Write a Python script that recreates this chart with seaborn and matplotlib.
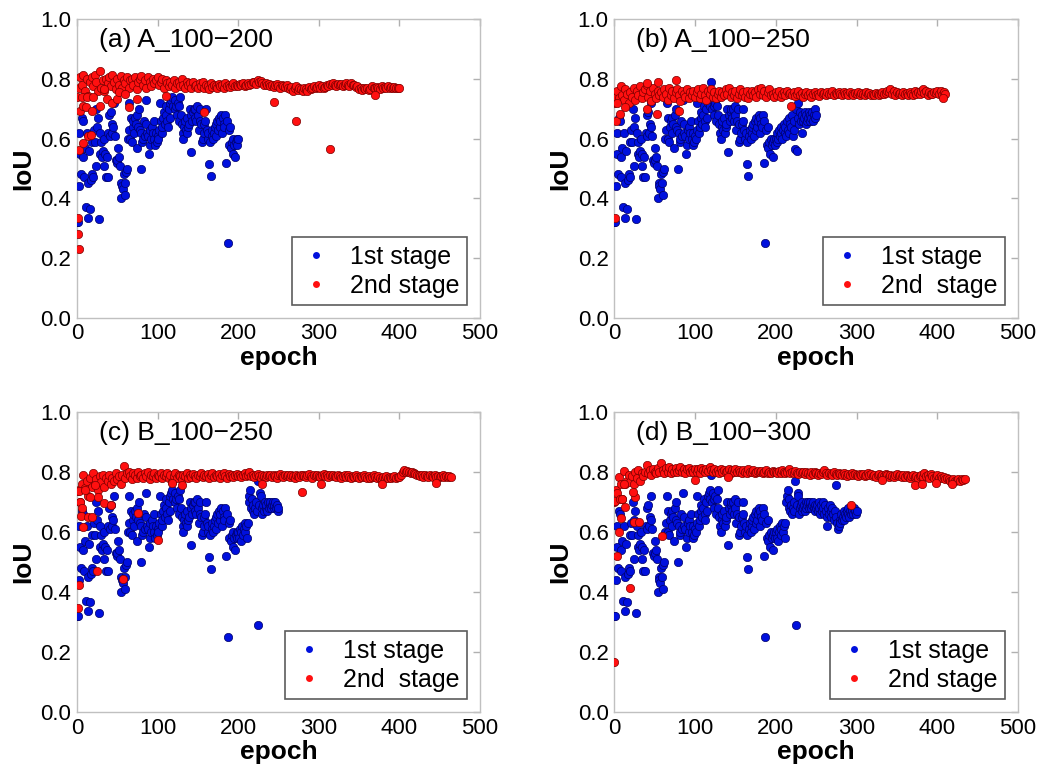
import numpy as np
import pandas as pd
import seaborn as sns
import matplotlib
matplotlib.use("Agg")
from matplotlib import pyplot as plt
from matplotlib.lines import Line2D

# ---- data ----

# 1st stage IoU, one value per epoch (epochs 0-200 are shared by all panels)
blue_common = [
    .32, .32, .44, .62, .55, .48, .67, .66, .54, .47,
    .57, .37, .62, .335, .45, .56, .365, .46, .48, .59,
    .47, .63, .59, .70, .51, .64, .67, .33, .62, .55,
    .59, .54, .56, .60, .51, .55, .47, .54, .47, .62,
    .68, .61, .69, .62, .65, .64, .72, .61, .53, .52,
    .53, .57, .54, .51, .40, .45, .44, .43, .48, .45,
    .41, .49, .50, .60, .63, .72, .60, .67, .59, .64,
    .66, .62, .67, .65, .57, .68, .64, .70, .63, .50,
    .62, .59, .60, .66, .61, .73, .65, .62, .61, .55,
    .58, .63, .60, .64, .62, .66, .60, .58, .62, .59,
    .61, .60, .63, .72, .66, .62, .64, .67, .69, .65,
    .68, .71, .66, .64, .70, .67, .72, .73, .74, .71,
    .79, .70, .73, .71, .68, .72, .66, .71, .74, .68,
    .65, .62, .60, .64, .66, .63, .67, .62, .64, .65,
    .70, .555, .68, .66, .69, .70, .67, .70, .66, .71,
    .68, .63, .66, .70, .65, .59, .60, .62, .65, .66,
    .70, .63, .60, .62, .515, .59, .475, .61, .63, .60,
    .62, .64, .65, .61, .66, .63, .67, .64, .66, .68,
    .62, .67, .65, .64, .68, .52, .66, .25, .63, .58,
    .64, .57, .59, .55, .60, .58, .54, .59, .60, .58,
    .60,
]
# epochs 201-250, run A_100-250
blue_a_ext = [
    .59, .62, .60, .63, .61, .64, .62, .60, .63, .65,
    .62, .64, .61, .66, .63, .67, .62, .65, .64, .68,
    .61, .66, .63, .565, .70, .56, .72, .67, .65, .69,
    .66, .62, .68, .66, .67, .69, .65, .68, .66, .67,
    .69, .66, .68, .67, .69, .66, .68, .70, .67, .68,
]
# epochs 201-250, runs B
blue_b_ext = [
    .58, .61, .57, .60, .62, .59, .61, .63, .60, .62,
    .58, .63, .70, .72, .74, .68, .71, .67, .69, .66,
    .68, .70, .67, .77, .29, .69, .73, .72, .66, .68,
    .69, .67, .70, .68, .69, .67, .70, .68, .69, .70,
    .68, .69, .70, .68, .69, .70, .68, .69, .67, .68,
]
# epochs 251-300, run B_100-300
blue_b_ext2 = [
    .69, .67, .70, .68, .66, .69, .67, .70, .68, .66,
    .69, .67, .65, .62, .68, .66, .69, .67, .65, .68,
    .66, .64, .67, .65, .755, .63, .61, .62, .64, .63,
    .66, .64, .65, .67, .64, .66, .65, .67, .66, .68,
    .65, .67, .66, .68, .67, .66, .68, .67, .66, .67,
]

# 2nd stage IoU, main band read every 2 epochs
red_a_band = [
    .740, .770, .805, .780, .812, .760, .800, .742, .790, .808,
    .775, .813, .790, .760, .828, .770, .795, .760, .800, .785,
    .805, .775, .812, .790, .765, .800, .780, .810, .770, .795,
    .785, .805, .770, .795, .800, .780, .808, .765, .790, .800,
    .810, .780, .795, .770, .805, .790, .775, .800, .785, .795,
    .808, .780, .790, .800, .770, .795, .785, .775, .790, .780,
    .795, .770, .785, .790, .775, .800, .780, .770, .790, .778,
    .785, .770, .790, .775, .780, .768, .785, .775, .790, .770,
    .780, .775, .765, .785, .772, .780, .775, .770, .782, .776,
    .778, .770, .785, .775, .780, .772, .778, .785, .775, .780,
    .776, .782, .778, .785, .775, .780, .786, .778, .783, .788,
    .790, .784, .795, .790, .793, .786, .780, .785, .778, .782,
    .775, .780, .772, .778, .784, .775, .770, .780, .776, .772,
    .778, .770, .765, .772, .760, .768, .775, .762, .770, .765,
    .760, .770, .765, .758, .772, .766, .770, .775, .768, .773,
    .778, .770, .775, .768, .772, .780, .776, .782, .778, .785,
    .780, .776, .784, .778, .782, .775, .780, .786, .778, .775,
    .785, .778, .780, .772, .776, .765, .770, .762, .768, .765,
    .770, .762, .766, .775, .770, .768, .772, .770, .766, .775,
    .770, .772, .768, .776, .770, .774, .768, .772, .770, .768,
    .768,
]
red_a_out_ep = [1, 2, 1, 3, 8, 14, 17, 4, 7, 11, 19, 6, 12, 20, 28, 33, 37,
                43, 49, 52, 64, 60, 74, 111, 157, 245, 272, 314, 370]
red_a_out = [.28, .23, .335, .563, .585, .608, .612, .694, .71, .705, .694,
             .74, .738, .738, .71, .766, .733, .72, .733, .755, .705, .75,
             .733, .744, .688, .724, .658, .566, .746]

red_b_band = [
    .720, .740, .760, .735, .775, .745, .730, .765, .750, .720,
    .755, .740, .770, .730, .760, .745, .775, .735, .755, .765,
    .780, .740, .760, .725, .770, .750, .735, .760, .745, .755,
    .740, .765, .750, .730, .770, .745, .760, .735, .755, .765,
    .745, .725, .760, .750, .740, .765, .735, .755, .745, .760,
    .740, .755, .765, .735, .750, .770, .745, .730, .760, .750,
    .765, .740, .755, .735, .750, .760, .740, .755, .745, .765,
    .750, .770, .740, .755, .745, .760, .735, .750, .765, .745,
    .755, .740, .760, .735, .750, .760, .745, .755, .740, .765,
    .750, .770, .745, .760, .740, .755, .765, .745, .750, .740,
    .755, .745, .760, .740, .750, .755, .745, .760, .748, .752,
    .745, .755, .742, .750, .758, .745, .752, .740, .750, .755,
    .745, .752, .740, .748, .755, .745, .750, .742, .755, .748,
    .752, .745, .755, .748, .750, .758, .745, .752, .748, .755,
    .750, .745, .755, .748, .752, .745, .755, .750, .745, .752,
    .748, .755, .745, .752, .750, .745, .755, .748, .752, .745,
    .750, .745, .752, .748, .745, .750, .755, .748, .752, .760,
    .755, .765, .750, .760, .745, .755, .748, .752, .745, .755,
    .748, .752, .745, .755, .750, .745, .758, .750, .755, .748,
    .760, .765, .752, .758, .745, .755, .750, .748, .755, .752,
    .758, .750, .760, .745, .755, .750,
]
red_b_out_ep = [1, 2, 7, 3, 14, 40, 53, 80, 219, 407, 76, 54, 41]
red_b_out = [.335, .658, .683, .72, .705, .70, .683, .694, .71, .735,
             .795, .79, .786]

red_c_band = [
    .735, .740, .700, .760, .790, .745, .770, .720, .780, .750,
    .797, .760, .775, .740, .785, .765, .790, .750, .780, .770,
    .790, .760, .780, .770, .795, .775, .785, .760, .790, .820,
    .780, .795, .800, .785, .775, .795, .790, .780, .800, .785,
    .790, .780, .795, .785, .800, .775, .790, .785, .795, .780,
    .790, .785, .795, .780, .790, .785, .795, .780, .790, .765,
    .785, .795, .780, .790, .785, .775, .790, .785, .795, .780,
    .788, .782, .792, .785, .780, .790, .785, .795, .782, .788,
    .785, .792, .780, .788, .795, .782, .790, .785, .792, .780,
    .790, .796, .785, .780, .792, .786, .790, .782, .788, .792,
    .785, .790, .782, .788, .795, .786, .790, .800, .785, .790,
    .782, .788, .792, .785, .780, .790, .786, .782, .790, .785,
    .788, .782, .790, .785, .780, .788, .792, .785, .782, .788,
    .785, .790, .782, .788, .785, .780, .790, .786, .782, .788,
    .790, .785, .782, .788, .792, .785, .780, .788, .785, .790,
    .786, .782, .788, .792, .785, .790, .782, .788, .785, .790,
    .786, .782, .788, .785, .780, .786, .790, .782, .788, .784,
    .780, .786, .782, .788, .784, .780, .786, .782, .788, .784,
    .780, .785, .778, .784, .788, .782, .778, .785, .780, .776,
    .782, .778, .785, .780, .784, .778, .782, .786, .780, .784,
    .782, .788, .798, .805, .800, .802, .798, .795, .800, .795,
    .792, .788, .790, .786, .788, .784, .790, .786, .782, .788,
    .785, .782, .788, .784, .786, .782, .785, .788, .784, .786,
    .782, .785, .783,
]
red_c_out_ep = [1, 2, 3, 4, 5, 6, 8, 13, 19, 25, 16, 26, 33, 42, 57, 76, 100,
                130, 118, 229, 279, 303, 378, 446, 10, 22]
red_c_out = [.347, .423, .735, .698, .652, .678, .617, .65, .65, .47, .717,
             .717, .695, .69, .442, .663, .574, .755, .763, .759, .733, .758,
             .759, .761, .74, .755]

red_d_band = [
    .700, .740, .730, .783, .760, .710, .803, .760, .770, .790,
    .765, .785, .760, .800, .780, .805, .770, .795, .785, .800,
    .822, .795, .805, .790, .810, .800, .795, .812, .800, .830,
    .805, .795, .812, .800, .815, .795, .808, .800, .812, .798,
    .805, .815, .800, .810, .795, .808, .812, .800, .805, .798,
    .810, .800, .808, .795, .812, .805, .800, .810, .802, .815,
    .805, .798, .810, .800, .805, .795, .808, .800, .805, .798,
    .802, .808, .795, .805, .800, .810, .798, .805, .800, .795,
    .805, .800, .795, .808, .800, .798, .805, .795, .800, .803,
    .798, .803, .795, .800, .805, .797, .800, .795, .803, .798,
    .800, .795, .802, .797, .805, .800, .795, .800, .808, .797,
    .800, .795, .802, .797, .792, .800, .795, .798, .792, .800,
    .795, .790, .798, .793, .800, .795, .790, .797, .793, .800,
    .805, .795, .790, .797, .793, .790, .798, .793, .790, .795,
    .792, .788, .795, .790, .786, .793, .790, .795, .788, .792,
    .790, .786, .793, .788, .792, .785, .790, .795, .788, .792,
    .786, .790, .782, .788, .793, .785, .790, .786, .792, .788,
    .784, .790, .786, .782, .788, .792, .785, .790, .784, .788,
    .782, .788, .785, .780, .786, .790, .783, .787, .780, .785,
    .790, .783, .795, .785, .788, .780, .792, .785, .778, .783,
    .788, .780, .785, .778, .783, .776, .780, .775, .770, .772,
    .775, .770, .773, .775, .770, .776, .774, .775,
]
red_d_out_ep = [0, 3, 6, 9, 20, 24, 31, 59, 1, 7, 10, 14, 26, 23, 12, 293,
                100, 141, 331, 372, 381, 398, 418]
red_d_out = [.167, .52, .598, .645, .414, .633, .633, .587, .703, .71, .71,
             .683, .717, .733, .76, .689, .772, .783, .772, .756, .76, .763,
             .76]

titles = ["(a) A_100\u2212200", "(b) A_100\u2212250",
          "(c) B_100\u2212250", "(d) B_100\u2212300"]
legend_2nd = ["2nd stage", "2nd  stage", "2nd  stage", "2nd stage"]

blue_runs = [blue_common,
             blue_common + blue_a_ext,
             blue_common + blue_b_ext,
             blue_common + blue_b_ext + blue_b_ext2]
red_runs = [(red_a_band, red_a_out_ep, red_a_out),
            (red_b_band, red_b_out_ep, red_b_out),
            (red_c_band, red_c_out_ep, red_c_out),
            (red_d_band, red_d_out_ep, red_d_out)]

# ---- plotting ----
sns.set_style("white")
plt.rcParams["font.family"] = ["Liberation Sans", "DejaVu Sans"]
plt.rcParams["text.color"] = "black"
plt.rcParams["axes.labelcolor"] = "black"

BLUE = "#0010DD"
RED = "#FF1010"

fig = plt.figure(figsize=(10.41, 7.66), dpi=100)
positions = [
    [0.074, 0.585, 0.387, 0.390],
    [0.590, 0.585, 0.388, 0.390],
    [0.074, 0.0705, 0.387, 0.392],
    [0.590, 0.0705, 0.388, 0.392],
]

for i in range(4):
    ax = fig.add_axes(positions[i])
    blue = blue_runs[i]
    band, out_ep, out_val = red_runs[i]

    df_blue = pd.DataFrame({"epoch": np.arange(len(blue)), "IoU": blue})
    df_red = pd.DataFrame({
        "epoch": np.concatenate([2 * np.arange(len(band)), out_ep]),
        "IoU": np.concatenate([band, out_val]),
    })

    sns.scatterplot(data=df_blue, x="epoch", y="IoU", ax=ax, color=BLUE,
                    s=36, edgecolor="#000066", linewidth=0.5, zorder=3)
    sns.scatterplot(data=df_red, x="epoch", y="IoU", ax=ax, color=RED,
                    s=36, edgecolor="#7a0000", linewidth=0.5, zorder=4)

    ax.set_xlim(0, 500)
    ax.set_ylim(0, 1.0)
    ax.set_xticks(np.arange(0, 501, 100))
    ax.set_yticks(np.arange(0, 1.01, 0.2))
    ax.set_yticklabels([f"{v:.1f}" for v in np.arange(0, 1.01, 0.2)])
    ax.tick_params(direction="in", length=5, width=1, colors="#b0b0b0",
                   labelcolor="black", labelsize=16, top=True, right=True,
                   pad=4)
    for sp in ax.spines.values():
        sp.set_color("#c0c0c0")
        sp.set_linewidth(1)

    ax.set_xlabel("epoch", fontsize=19, fontweight="bold", labelpad=1)
    ax.set_ylabel("IoU", fontsize=19, fontweight="bold", labelpad=4)
    ax.text(0.055, 0.93, titles[i], transform=ax.transAxes, fontsize=19,
            va="center", ha="left")

    handles = [
        Line2D([], [], marker="o", linestyle="", color=BLUE, markersize=5,
               markeredgewidth=0, label="1st stage"),
        Line2D([], [], marker="o", linestyle="", color=RED, markersize=5,
               markeredgewidth=0, label=legend_2nd[i]),
    ]
    leg = ax.legend(handles=handles, loc="lower right",
                    bbox_to_anchor=(0.967, 0.042), borderaxespad=0,
                    fontsize=18, frameon=True, fancybox=False,
                    handletextpad=0.7, labelspacing=0.2, borderpad=0.3,
                    handlelength=1.3)
    leg.get_frame().set_edgecolor("#333333")
    leg.get_frame().set_linewidth(1.2)
    leg.set_zorder(10)

fig.savefig("out.png", dpi=100)
